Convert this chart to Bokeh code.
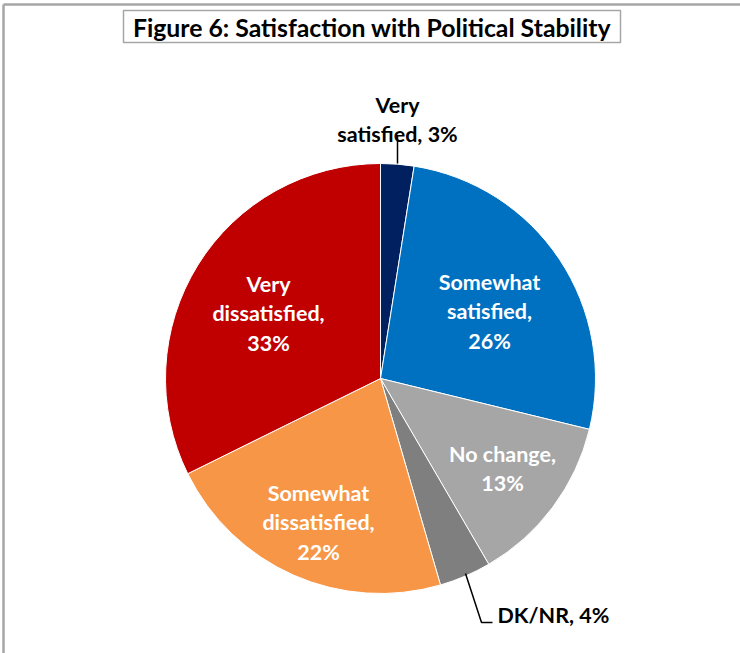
import math
from bokeh.plotting import figure
from bokeh.models import Range1d, ColumnDataSource
from bokeh.core.properties import value
from bokeh.embed import file_html
from bokeh.resources import INLINE

# ---- data ----
categories = ["Very satisfied", "Somewhat satisfied", "No change", "DK/NR",
              "Somewhat dissatisfied", "Very dissatisfied"]
shares = [2.5, 26.3, 12.8, 3.9, 22.2, 32.3]
pct_labels = ["3%", "26%", "13%", "4%", "22%", "33%"]
colors = ["#002060", "#0070C0", "#A6A6A6", "#7F7F7F", "#F79646", "#C00000"]
title = "Figure 6: Satisfaction with Political Stability"

W, H = 740, 653
FONT = "Lato"

def Y(y):
    return H - y

p = figure(width=W, height=H, output_backend="svg", toolbar_location=None,
           x_range=Range1d(0, W), y_range=Range1d(0, H), min_border=0)
p.axis.visible = False
p.grid.visible = False
p.outline_line_color = None
p.background_fill_color = "white"

# chart border (top & left visible)
p.line([3, 3], [0, Y(4)], line_color="#A6A6A6", line_width=2.5)
p.line([3, W], [Y(4), Y(4)], line_color="#A6A6A6", line_width=2.5)

# pie
cx, cy, r = 380, Y(378), 215
total = sum(shares)
cum = 0.0
starts, ends = [], []
for s in shares:
    a0 = math.pi / 2 - 2 * math.pi * cum / total
    cum += s
    a1 = math.pi / 2 - 2 * math.pi * cum / total
    starts.append(a1)
    ends.append(a0)
src = ColumnDataSource(dict(x=[cx] * len(shares), y=[cy] * len(shares),
                            start=starts, end=ends, color=colors))
p.wedge(x="x", y="y", radius=r, start_angle="start", end_angle="end",
        fill_color="color", line_color="white", line_width=1, source=src)

# leader lines
p.line([397, 397], [Y(135), Y(163)], line_color="black", line_width=1.5)
p.line([465, 481, 492], [Y(573), Y(622), Y(622)], line_color="black", line_width=1.5)

# labels: (lines, x, y_first_line, color, align)
label_layout = [
    (["Very", "satisfied, " + pct_labels[0]], 397, 104, "black", "center"),
    (["Somewhat", "satisfied,", pct_labels[1]], 489, 281, "white", "center"),
    (["No change,", pct_labels[2]], 502, 453, "white", "center"),
    (["DK/NR, " + pct_labels[3]], 497, 614, "black", "left"),
    (["Somewhat", "dissatisfied,", pct_labels[4]], 318, 492, "white", "center"),
    (["Very", "dissatisfied,", pct_labels[5]], 268, 283, "white", "center"),
]
LH = 29.5
for lines, lx, ly, col, al in label_layout:
    xs = [lx] * len(lines)
    ys = [Y(ly + i * LH) for i in range(len(lines))]
    p.text(x=xs, y=ys, text=lines, text_color=col, text_font=value(FONT),
           text_font_style="bold", text_font_size="21.5px",
           text_align=al, text_baseline="middle")

# title box
p.quad(left=123, right=620, top=Y(10), bottom=Y(42), fill_color="white",
       line_color="#A6A6A6", line_width=1.5)
p.text(x=[371.5], y=[Y(26.5)], text=[title], text_color="black",
       text_font=value(FONT), text_font_style="bold", text_font_size="24.8px",
       text_align="center", text_baseline="middle")

open("out.html", "w").write(file_html(p, INLINE))
